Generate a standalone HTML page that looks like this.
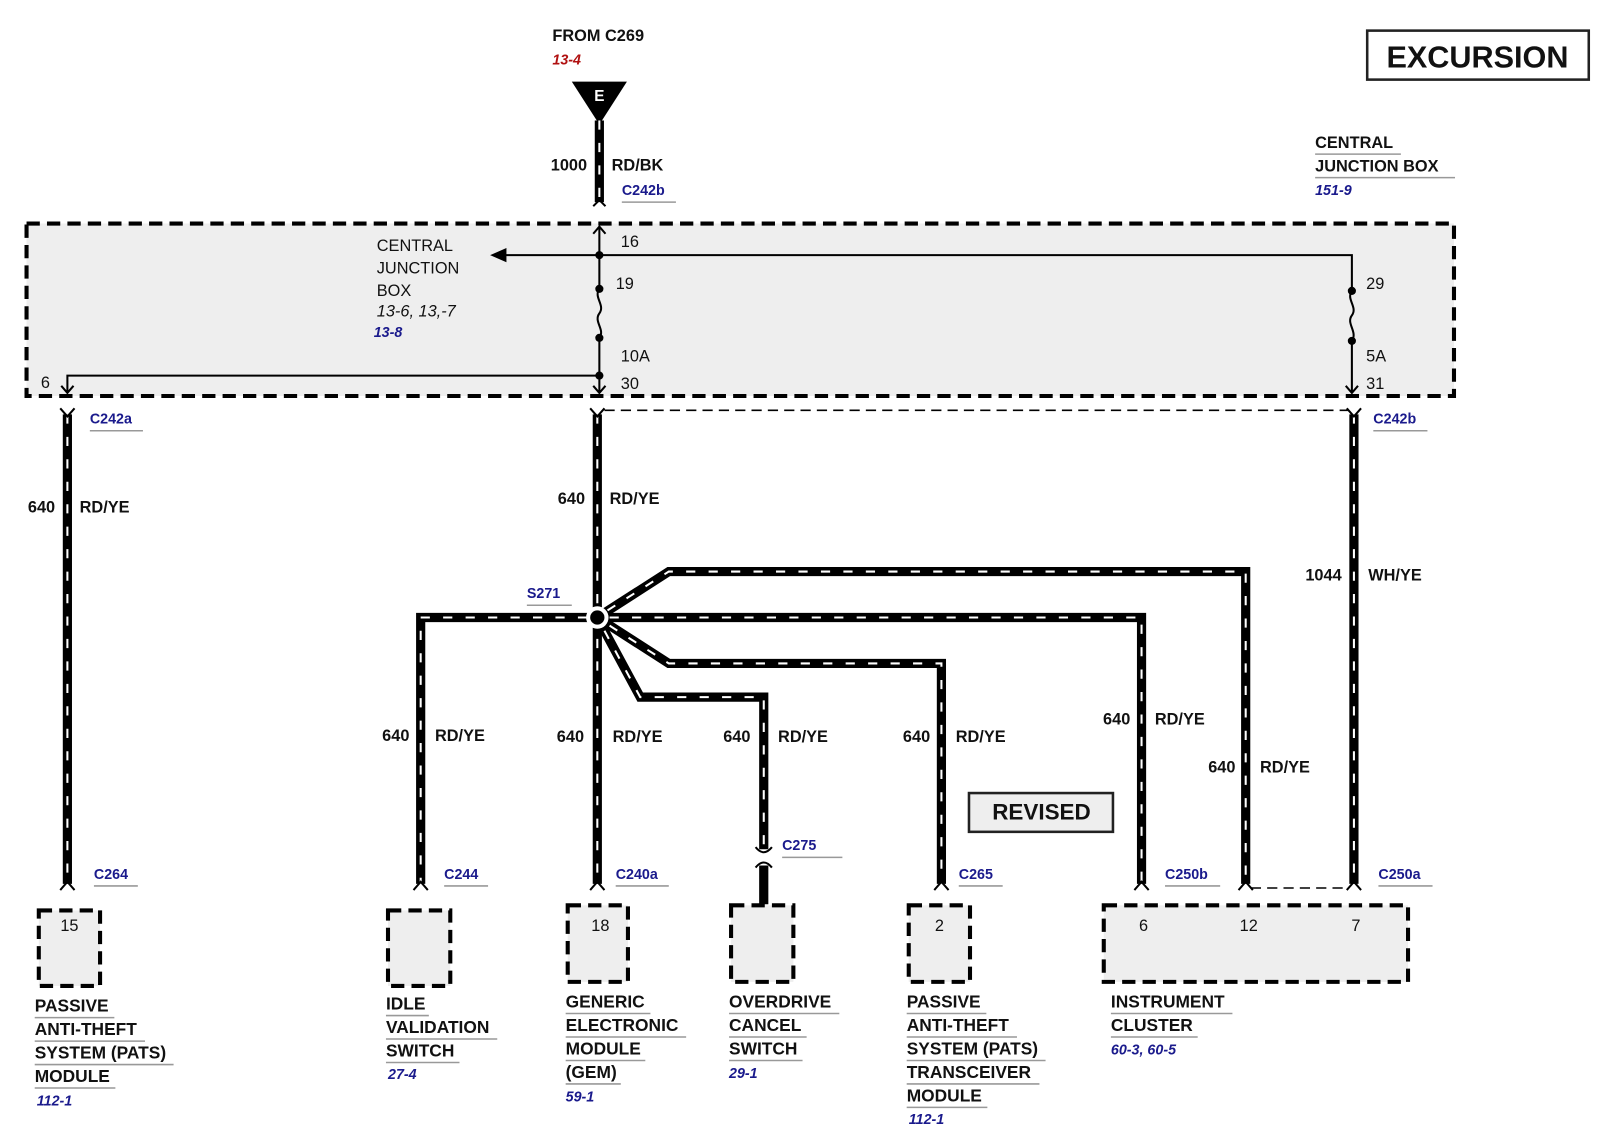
<!DOCTYPE html>
<html><head><meta charset="utf-8"><style>
html,body{margin:0;padding:0;background:#fff;}
svg{display:block}
text{font-family:"Liberation Sans",sans-serif;}
.b{font-weight:bold;font-size:16px;fill:#111}
.n{font-size:16px;fill:#111}
.bl{font-weight:bold;font-style:italic;font-size:14px;fill:#1a1a8c}
.cl{font-weight:bold;font-size:14px;fill:#1a1a8c}
.lb{font-weight:bold;font-size:17px;fill:#111}
.w{fill:none;stroke:#000;stroke-width:9;stroke-linejoin:miter}
.wd{fill:none;stroke:#fff;stroke-width:2;stroke-dasharray:9,13}
.t{fill:none;stroke:#000;stroke-width:2}
.ul{stroke:#999;stroke-width:1.5}
.box{fill:#eee;stroke:#000;stroke-width:4;stroke-dasharray:13,7}
</style></head><body>
<svg width="1600" height="1136" viewBox="0 0 1567 1113" preserveAspectRatio="none" xmlns="http://www.w3.org/2000/svg">
<!-- top -->
<text x="541" y="40" class="b">FROM C269</text>
<text x="541" y="63" style="font-weight:bold;font-style:italic;font-size:14px;fill:#b01010">13-4</text>
<polygon points="560,80 614,80 587,122" fill="#000"/>
<text x="587" y="99" text-anchor="middle" style="font-weight:bold;font-size:15px;fill:#fff">E</text>
<path class="w" d="M587,118 V198"/><path class="wd" d="M587,118 V198"/>
<path class="t" d="M581,202 L587,196 L593,202"/>
<text x="575" y="167" text-anchor="end" class="b">1000</text>
<text x="599" y="167" class="b">RD/BK</text>
<text x="609" y="191" class="cl">C242b</text><line x1="609" y1="198" x2="662" y2="198" class="ul"/>

<rect x="1339" y="30" width="217" height="48" fill="#fff" stroke="#222" stroke-width="2.5"/>
<text x="1447" y="66" text-anchor="middle" style="font-weight:bold;font-size:30px;fill:#111">EXCURSION</text>
<text x="1288" y="145" class="b">CENTRAL</text><line x1="1288" y1="151" x2="1372" y2="151" class="ul"/>
<text x="1288" y="168" class="b">JUNCTION BOX</text><line x1="1288" y1="174" x2="1425" y2="174" class="ul"/>
<text x="1288" y="191" class="bl">151-9</text>

<!-- junction box -->
<rect x="26" y="219" width="1398" height="169" class="box"/>
<text x="369" y="246" class="n">CENTRAL</text>
<text x="369" y="268" class="n">JUNCTION</text>
<text x="369" y="290" class="n">BOX</text>
<text x="369" y="310" style="font-style:italic;font-size:16px;fill:#111">13-6, 13,-7</text>
<text x="366" y="330" class="bl">13-8</text>
<path class="t" d="M587,222 V385 M581,229 L587,222 L593,229 M581,378 L587,385 L593,378"/>
<path class="t" d="M587,250 H1324 V385 M1318,378 L1324,385 L1330,378"/>
<path class="t" d="M587,250 H495"/><polygon points="480,250 496,243 496,257" fill="#000"/>
<path class="t" d="M587,368 H66 V385 M60,378 L66,385 L72,378"/>
<rect x="583" y="284" width="8" height="46" fill="#eee"/>
<path class="t" d="M587,283 C581,291 593,299 587,307 C581,315 593,323 587,331"/>
<rect x="1320" y="286" width="8" height="46" fill="#eee"/>
<path class="t" d="M1324,285 C1318,293 1330,301 1324,309 C1318,317 1330,325 1324,334"/>
<g fill="#000"><circle cx="587" cy="250" r="4"/><circle cx="587" cy="283" r="4"/><circle cx="587" cy="331" r="4"/><circle cx="587" cy="368" r="4"/><circle cx="1324" cy="285" r="4"/><circle cx="1324" cy="334" r="4"/></g>
<text x="608" y="242" class="n">16</text><text x="603" y="283" class="n">19</text><text x="608" y="354" class="n">10A</text><text x="608" y="381" class="n">30</text>
<text x="1338" y="283" class="n">29</text><text x="1338" y="354" class="n">5A</text><text x="1338" y="381" class="n">31</text>
<text x="40" y="380" class="n">6</text>

<!-- dashed thin -->
<path d="M592,402 H1320" stroke="#000" stroke-width="1.5" stroke-dasharray="10,6" fill="none"/>
<path d="M1225,870 H1320" stroke="#000" stroke-width="1.5" stroke-dasharray="10,6" fill="none"/>

<!-- wires -->
<g>
<path class="w" d="M66,406 V866"/><path class="wd" d="M66,406 V866"/>
<path class="w" d="M585,406 V866"/><path class="wd" d="M585,406 V866"/>
<path class="w" d="M1326,406 V866"/><path class="wd" d="M1326,406 V866"/>
<path class="w" d="M585,605 H412 V866"/><path class="wd" d="M575,605 H412 V866"/>
<path class="w" d="M585,605 L655,560 H1220 V866"/><path class="wd" d="M595,598 L655,560 H1220 V866"/>
<path class="w" d="M585,605 H1118 V866"/><path class="wd" d="M597,605 H1118 V866"/>
<path class="w" d="M585,605 L655,650 H922 V866"/><path class="wd" d="M597,613 L655,650 H922 V866"/>
<path class="w" d="M585,605 L627,683 H748 V832"/><path class="wd" d="M592,618 L627,683 H748 V832"/>
<path class="w" d="M748,848 V886"/>
</g>
<!-- connector forks -->
<g class="t" stroke-width="3">
<path d="M59,400 L66,408 L73,400"/><path d="M578,400 L585,408 L592,400"/><path d="M1319,400 L1326,408 L1333,400"/>
<path d="M59,872 L66,864 L73,872"/><path d="M405,872 L412,864 L419,872"/><path d="M578,872 L585,864 L592,872"/>
<path d="M915,872 L922,864 L929,872"/><path d="M1111,872 L1118,864 L1125,872"/><path d="M1213,872 L1220,864 L1227,872"/><path d="M1319,872 L1326,864 L1333,872"/>
<path d="M740,830 Q748,840 756,830"/><path d="M740,850 Q748,840 756,850"/>
</g>
<circle cx="585" cy="605" r="11" fill="#fff"/><circle cx="585" cy="605" r="7" fill="#000"/>
<text x="516" y="586" class="cl">S271</text><line x1="516" y1="593" x2="560" y2="593" class="ul"/>

<!-- wire labels -->
<g class="b">
<text x="54" y="502" text-anchor="end">640</text><text x="78" y="502">RD/YE</text>
<text x="573" y="494" text-anchor="end">640</text><text x="597" y="494">RD/YE</text>
<text x="1314" y="569" text-anchor="end">1044</text><text x="1340" y="569">WH/YE</text>
<text x="401" y="726" text-anchor="end">640</text><text x="426" y="726">RD/YE</text>
<text x="572" y="727" text-anchor="end">640</text><text x="600" y="727">RD/YE</text>
<text x="735" y="727" text-anchor="end">640</text><text x="762" y="727">RD/YE</text>
<text x="911" y="727" text-anchor="end">640</text><text x="936" y="727">RD/YE</text>
<text x="1107" y="710" text-anchor="end">640</text><text x="1131" y="710">RD/YE</text>
<text x="1210" y="757" text-anchor="end">640</text><text x="1234" y="757">RD/YE</text>
</g>
<g class="cl">
<text x="88" y="415">C242a</text><text x="1345" y="415">C242b</text>
<text x="92" y="861">C264</text><text x="435" y="861">C244</text><text x="603" y="861">C240a</text>
<text x="766" y="833">C275</text><text x="939" y="861">C265</text><text x="1141" y="861">C250b</text><text x="1350" y="861">C250a</text>
</g>
<g class="ul">
<line x1="88" y1="422" x2="140" y2="422"/><line x1="1345" y1="422" x2="1398" y2="422"/>
<line x1="92" y1="868" x2="135" y2="868"/><line x1="435" y1="868" x2="478" y2="868"/><line x1="603" y1="868" x2="655" y2="868"/>
<line x1="766" y1="840" x2="825" y2="840"/><line x1="939" y1="868" x2="982" y2="868"/><line x1="1141" y1="868" x2="1195" y2="868"/><line x1="1350" y1="868" x2="1403" y2="868"/>
</g>

<rect x="949" y="777" width="141" height="38" fill="#eee" stroke="#222" stroke-width="2.5"/>
<text x="1020" y="803" text-anchor="middle" style="font-weight:bold;font-size:22px;fill:#111">REVISED</text>

<!-- components -->
<rect x="38" y="892" width="60" height="74" class="box"/>
<rect x="380" y="892" width="61" height="74" class="box"/>
<rect x="556" y="887" width="59" height="75" class="box"/>
<rect x="716" y="887" width="61" height="75" class="box"/>
<rect x="890" y="887" width="60" height="75" class="box"/>
<rect x="1081" y="887" width="298" height="75" class="box"/>
<g class="n">
<text x="68" y="912" text-anchor="middle">15</text><text x="588" y="912" text-anchor="middle">18</text><text x="920" y="912" text-anchor="middle">2</text>
<text x="1120" y="912" text-anchor="middle">6</text><text x="1223" y="912" text-anchor="middle">12</text><text x="1328" y="912" text-anchor="middle">7</text>
</g>
<g class="lb">
<text x="34" y="991">PASSIVE</text><text x="34" y="1014">ANTI-THEFT</text><text x="34" y="1037">SYSTEM (PATS)</text><text x="34" y="1060">MODULE</text>
<text x="378" y="989">IDLE</text><text x="378" y="1012">VALIDATION</text><text x="378" y="1035">SWITCH</text>
<text x="554" y="987">GENERIC</text><text x="554" y="1010">ELECTRONIC</text><text x="554" y="1033">MODULE</text><text x="554" y="1056">(GEM)</text>
<text x="714" y="987">OVERDRIVE</text><text x="714" y="1010">CANCEL</text><text x="714" y="1033">SWITCH</text>
<text x="888" y="987">PASSIVE</text><text x="888" y="1010">ANTI-THEFT</text><text x="888" y="1033">SYSTEM (PATS)</text><text x="888" y="1056">TRANSCEIVER</text><text x="888" y="1079">MODULE</text>
<text x="1088" y="987">INSTRUMENT</text><text x="1088" y="1010">CLUSTER</text>
</g>
<g class="ul">
<line x1="34" y1="997" x2="112" y2="997"/><line x1="34" y1="1020" x2="142" y2="1020"/><line x1="34" y1="1043" x2="170" y2="1043"/><line x1="34" y1="1066" x2="113" y2="1066"/>
<line x1="378" y1="995" x2="420" y2="995"/><line x1="378" y1="1018" x2="487" y2="1018"/><line x1="378" y1="1041" x2="450" y2="1041"/>
<line x1="554" y1="993" x2="637" y2="993"/><line x1="554" y1="1016" x2="672" y2="1016"/><line x1="554" y1="1039" x2="632" y2="1039"/><line x1="554" y1="1062" x2="608" y2="1062"/>
<line x1="714" y1="993" x2="822" y2="993"/><line x1="714" y1="1016" x2="790" y2="1016"/><line x1="714" y1="1039" x2="786" y2="1039"/>
<line x1="888" y1="993" x2="966" y2="993"/><line x1="888" y1="1016" x2="996" y2="1016"/><line x1="888" y1="1039" x2="1024" y2="1039"/><line x1="888" y1="1062" x2="1018" y2="1062"/><line x1="888" y1="1085" x2="967" y2="1085"/>
<line x1="1088" y1="993" x2="1207" y2="993"/><line x1="1088" y1="1016" x2="1173" y2="1016"/>
</g>
<g class="bl">
<text x="36" y="1083">112-1</text><text x="380" y="1057">27-4</text><text x="554" y="1079">59-1</text><text x="714" y="1056">29-1</text><text x="890" y="1101">112-1</text><text x="1088" y="1033">60-3,  60-5</text>
</g>
</svg>
</body></html>
